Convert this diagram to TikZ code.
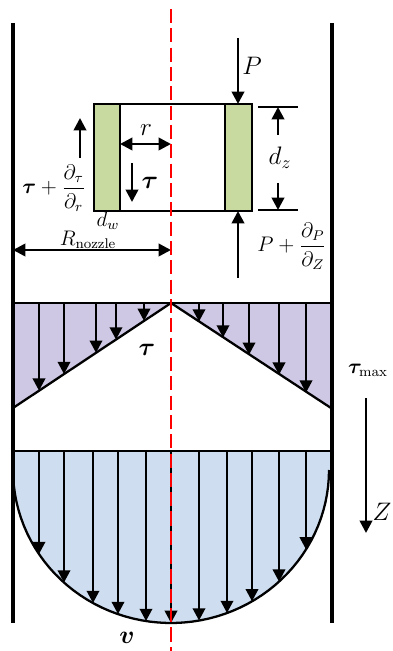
\documentclass[tikz,border=0pt]{standalone}
\usepackage{amsmath}
\usepackage{bm}
\usetikzlibrary{arrows.meta}
\definecolor{wallgreen}{RGB}{200,218,160}
\definecolor{shearlilac}{RGB}{206,200,228}
\definecolor{flowblue}{RGB}{206,222,240}
\tikzset{
  force/.style={line width=1.5pt, -{Triangle[width=7pt,length=7pt]}},
  twoway/.style={line width=1.5pt, {Triangle[width=7pt,length=7pt]}-{Triangle[width=7pt,length=7pt]}},
  wall/.style={line width=1.9pt},
  axisline/.style={red, line width=1pt, dash pattern=on 8pt off 3pt},
  sym/.style={font=\Large, inner sep=1pt},
}
\begin{document}
\begin{tikzpicture}[x=0.02cm, y=-0.02cm, font=\large, inner sep=1pt]
\useasboundingbox (0,0) rectangle (392,651);
% shear stress region
\fill[shearlilac] (13,303) -- (331,303) -- (331,408) -- (171,303) -- (13,408) -- cycle;
\draw[line width=1.3pt] (13,303) -- (331,303);
\draw[line width=1.3pt] (13,408) -- (171,303) -- (331,408);
\foreach \x in {39,64,96,116,144}
  \draw[force] (\x,303) -- (\x,{303+(171-\x)*105/158});
\foreach \x in {199,223,249,279,306}
  \draw[force] (\x,303) -- (\x,{303+(\x-171)*105/158});
% velocity profile
\fill[flowblue] (13,451) -- (331,451) -- (331,470)
  -- plot[domain=0:180, samples=60] ({171+158*cos(\x)},{470+153*sin(\x)}) -- cycle;
\draw[line width=1.3pt] (13,451) -- (331,451);
\draw[line width=1.3pt] plot[domain=0:180, samples=60] ({171+158*cos(\x)},{470+153*sin(\x)});
\foreach \x in {39,64,93,118,146,171,199,227,252,279,306}
  \draw[force] (\x,451) -- (\x,{470+153*sqrt(1-((\x-171)/158)^2)});
% walls
\draw[wall] (13,23) -- (13,623);
\draw[wall] (332,23) -- (332,623);
% fluid element
\draw[line width=1.1pt, fill=white] (94,104) rectangle (252,211);
\draw[line width=1.1pt, fill=wallgreen] (94,104) rectangle (120,211);
\draw[line width=1.1pt, fill=wallgreen] (225,104) rectangle (252,211);
\draw[force] (238,38) -- (238,104);
\draw[force] (238,278) -- (238,211);
\draw[force] (80,158) -- (80,118);
\draw[force] (132,163) -- (132,202);
\draw[twoway] (120,144) -- (171,144);
% element height
\draw[line width=1.3pt] (258,107) -- (298,107);
\draw[line width=1.3pt] (258,210) -- (298,210);
\draw[force] (278,135) -- (278,107);
\draw[force] (278,183) -- (278,210);
% nozzle radius and flow direction
\draw[twoway] (13,250) -- (171,250);
\draw[force] (366,398) -- (366,533);
% centre line
\draw[axisline] (171,9) -- (171,651);
% labels
\node[sym] (lblP) at (252,66) {$P$};
\node (lblPdz) at (292,246) {$P+\dfrac{\partial_P}{\partial_Z}$};
\node[sym] (lbldz) at (280,158) {$d_z$};
\node (lbltaudr) at (54,188) {$\bm{\tau}+\dfrac{\partial_\tau}{\partial_r}$};
\node[sym] (lblr) at (146,130) {$r$};
\node[sym] (lbltau) at (150,183) {$\bm{\tau}$};
\node (lbldw) at (108,221) {$d_w$};
\node (lblR) at (88,240) {$R_{\text{nozzle}}$};
\node[sym] (lbltaumid) at (147,350) {$\bm{\tau}$};
\node (lbltaumax) at (368,370) {$\bm{\tau}_{\max}$};
\node[sym] (lblZ) at (382,512) {$Z$};
\node[sym] (lblv) at (127,638) {$\bm{v}$};
\end{tikzpicture}
\end{document}
